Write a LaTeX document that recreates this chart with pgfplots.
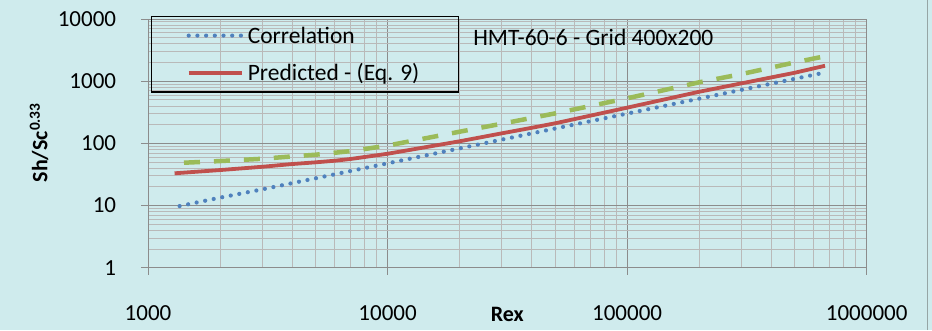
\documentclass[border=0pt]{standalone}
\usepackage{pgfplots}
\pgfplotsset{compat=1.18}
\usepackage{fontspec}
\setmainfont{Carlito}
\definecolor{bg}{RGB}{207,235,237}
\definecolor{majgrid}{RGB}{140,140,140}
\definecolor{mingrid}{RGB}{185,185,185}
\definecolor{cblue}{RGB}{79,129,189}
\definecolor{cred}{RGB}{192,80,77}
\definecolor{cgreen}{RGB}{155,187,89}
\begin{document}
\begin{tikzpicture}[x=1pt,y=1pt]
\fill[bg] (0,0) rectangle (932,330);
\draw[color={rgb,255:red,150;green,165;blue,165}, line width=1pt] (927,0) -- (927,330);
\begin{axis}[
  at={(148pt,62.3pt)}, anchor=south west,
  scale only axis, width=718.7pt, height=248.7pt,
  xmode=log, ymode=log,
  xmin=1000, xmax=1000000, ymin=1, ymax=10000,
  xtick={1000,10000,100000,1000000},
  xticklabels={1000,10000,100000,1000000},
  ytick={1,10,100,1000,10000},
  yticklabels={1,10,100,1000,10000},
  grid=both,
  major grid style={draw=majgrid, line width=0.8pt},
  minor grid style={draw=mingrid, line width=0.8pt},
  axis line style={draw=majgrid, line width=1pt},
  tick style={draw=majgrid, line width=1pt},
  tick align=outside,
  major tick length=7pt, minor tick length=0pt,
  xtick pos=left, ytick pos=left,
  ticklabel style={font=\fontsize{23}{27}\selectfont, inner sep=0pt},
  xticklabel style={anchor=base, yshift=-45.6pt},
  yticklabel style={anchor=east, xshift=-24.7pt},
  xlabel={\textbf{Rex}},
  ylabel={\textbf{Sh/Sc\textsuperscript{0.33}}},
  xlabel style={at={(axis description cs:0.5,-0.2169)}, anchor=base, font=\fontsize{22}{26}\selectfont, inner sep=0pt},
  ylabel style={at={(axis description cs:-0.1516,0.503)}, anchor=center, rotate=0, font=\fontsize{22}{26}\selectfont, inner sep=0pt},
  legend style={at={(axis description cs:0,1)}, anchor=north west, xshift=3pt, yshift=3pt,
    draw=black, line width=1.2pt, fill=none,
    inner xsep=35pt, inner ysep=8.5pt, row sep=16.3pt,
    font=\fontsize{23.5}{28}\selectfont,
    nodes={inner xsep=4pt, inner ysep=0pt, text height=18pt, text depth=3pt}},
  legend cell align=left,
  legend image code/.code={\draw[#1] (0pt,0pt) -- (53pt,0pt);},
]
\addplot[cgreen, line width=4.5pt, dash pattern=on 16pt off 14pt, forget plot] coordinates {
(1413,48.8) (2000,51.9) (3000,56.5) (4000,61.7) (5000,65.6) (7000,75) (10000,92)
(20000,154) (30000,207) (50000,303) (100000,530) (200000,960) (300000,1300)
(500000,2000) (670000,2520)};
\addplot[cblue, line width=4.2pt, line cap=round, dash pattern=on 0pt off 8.7pt] coordinates {
(1355,9.8) (2000,13.4) (3000,18.2) (5000,27.4) (10000,47.7) (20000,83) (50000,173)
(100000,301) (200000,524) (500000,1091) (670000,1379)};
\addlegendentry{Correlation}
\addplot[cred, line width=3.8pt] coordinates {
(1291,33) (2000,37.2) (3000,42) (4000,46.5) (5000,49.5) (6000,52.5) (7000,56)
(10000,68) (20000,108) (30000,145) (40000,178) (50000,210) (100000,375)
(200000,676) (300000,922) (500000,1365) (670000,1770)};
\addlegendentry{Predicted - (Eq. 9)}
\node[anchor=base west, inner sep=0pt, font=\fontsize{23.5}{28}\selectfont] at (rel axis cs:0.4524,0.8916) {HMT-60-6 - Grid 400x200};
\end{axis}
\pgfresetboundingbox
\path (0,0) rectangle (932,330);
\end{tikzpicture}
\end{document}
